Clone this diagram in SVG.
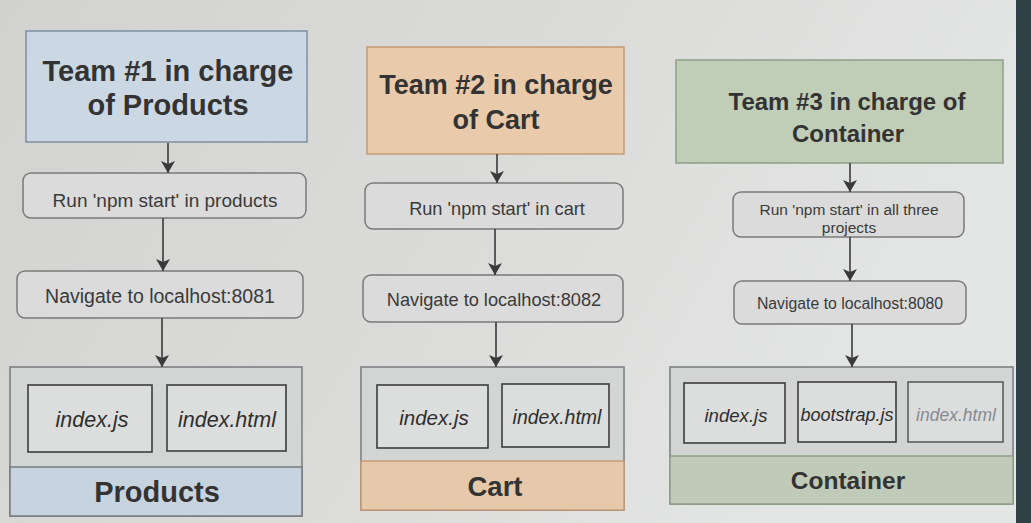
<svg xmlns="http://www.w3.org/2000/svg" width="1031" height="523" viewBox="0 0 1031 523">
<defs>
<linearGradient id="bg" x1="0" y1="0" x2="1" y2="0.3">
<stop offset="0" stop-color="#d2d2d0"/>
<stop offset="0.6" stop-color="#dcdddb"/>
<stop offset="1" stop-color="#e4e6e5"/>
</linearGradient>
<marker id="ah" viewBox="0 0 12 14" refX="12" refY="7" markerWidth="12" markerHeight="14" markerUnits="userSpaceOnUse" orient="auto">
<path d="M0,0 L12,7 L0,14 L3,7 Z" fill="#3a3a3a"/>
</marker>
</defs>
<style>
.team{stroke-width:1.5}
.t1{fill:#cbd8e4;stroke:#7f8fa0}
.t2{fill:#e9caab;stroke:#c49a74}
.t3{fill:#c0cdb7;stroke:#8e9e86}
.step{fill:#dadbda;stroke:#7a7a7a;stroke-width:1.5}
.cont{fill:#d3d5d5;stroke:#777b7d;stroke-width:1.5}
.file{fill:#dcdddd;stroke:#3c3c3c;stroke-width:1.6}
.title{font-family:"Liberation Sans",Arial,sans-serif;font-weight:bold;fill:#333;text-anchor:middle}
.lbl{font-family:"Liberation Sans",Arial,sans-serif;fill:#3a3a3a;text-anchor:middle}
.fn{font-family:"Liberation Sans",Arial,sans-serif;font-style:italic;fill:#2e2e2e;text-anchor:middle}
.conn{stroke:#3a3a3a;stroke-width:1.6;fill:none;marker-end:url(#ah)}
</style>
<rect x="0" y="0" width="1031" height="523" fill="url(#bg)"/>
<rect x="1016" y="0" width="15" height="523" fill="#2f4147"/>

<g id="team1">
<rect class="team t1" x="26" y="31" width="281" height="111"/>
<text class="title" x="168" y="81" font-size="29">Team #1 in charge</text>
<text class="title" x="168" y="115" font-size="29">of Products</text>
</g>
<g id="run1">
<rect class="step" x="23" y="173" width="283" height="45" rx="8"/>
<text class="lbl" x="165" y="207" font-size="19">Run 'npm start' in products</text>
</g>
<g id="nav1">
<rect class="step" x="17" y="271" width="286" height="47" rx="8"/>
<text class="lbl" x="160" y="303" font-size="19.5">Navigate to localhost:8081</text>
</g>
<g id="products">
<rect class="cont" x="10" y="367" width="292" height="149"/>
<rect x="10" y="467" width="292" height="49" fill="#c7d4df" stroke="#777b7d" stroke-width="1.5"/>
<rect class="file" x="28" y="385" width="124" height="67"/>
<text class="fn" x="92" y="427" font-size="21.5">index.js</text>
<rect class="file" x="167" y="385" width="119" height="66"/>
<text class="fn" x="227" y="427" font-size="21.5">index.html</text>
<text class="title" x="157" y="502" font-size="29">Products</text>
</g>

<g id="team2">
<rect class="team t2" x="367" y="47" width="257" height="107"/>
<text class="title" x="496" y="94" font-size="27">Team #2 in charge</text>
<text class="title" x="496" y="129" font-size="27">of Cart</text>
</g>
<g id="run2">
<rect class="step" x="365" y="183" width="258" height="46" rx="8"/>
<text class="lbl" x="497" y="215" font-size="18.2">Run 'npm start' in cart</text>
</g>
<g id="nav2">
<rect class="step" x="363" y="275" width="260" height="47" rx="8"/>
<text class="lbl" x="494" y="306" font-size="18.2">Navigate to localhost:8082</text>
</g>
<g id="cart">
<rect class="cont" x="361" y="367" width="263" height="143"/>
<rect x="361" y="461" width="263" height="49" fill="#e6c9ab" stroke="#c49a74" stroke-width="1.5"/>
<rect class="file" x="377" y="385" width="111" height="63"/>
<text class="fn" x="434" y="425" font-size="20.5">index.js</text>
<rect class="file" x="502" y="384" width="107" height="63"/>
<text class="fn" x="557" y="424" font-size="19.5">index.html</text>
<text class="title" x="495" y="496" font-size="27.5">Cart</text>
</g>

<g id="team3">
<rect class="team t3" x="676" y="60" width="327" height="103"/>
<text class="title" x="847" y="110" font-size="24">Team #3 in charge of</text>
<text class="title" x="848" y="142" font-size="24">Container</text>
</g>
<g id="run3">
<rect class="step" x="733" y="192" width="231" height="45" rx="8"/>
<text class="lbl" x="849" y="215" font-size="15.5">Run 'npm start' in all three</text>
<text class="lbl" x="849" y="233" font-size="15.5">projects</text>
</g>
<g id="nav3">
<rect class="step" x="734" y="281" width="232" height="43" rx="8"/>
<text class="lbl" x="850" y="309" font-size="15.8">Navigate to localhost:8080</text>
</g>
<g id="container">
<rect class="cont" x="670" y="367" width="343" height="137"/>
<rect x="670" y="456" width="343" height="48" fill="#bfcbb8" stroke="#8e9e86" stroke-width="1.5"/>
<rect class="file" x="684" y="383" width="101" height="60"/>
<text class="fn" x="736" y="422" font-size="18.6">index.js</text>
<rect class="file" x="798" y="382" width="98" height="60"/>
<text class="fn" x="847" y="421" font-size="18">bootstrap.js</text>
<rect class="file" x="908" y="382" width="95" height="60" style="stroke:#5a5e60"/>
<text class="fn" x="956" y="421" font-size="17.5" style="fill:#868b90">index.html</text>
<text class="title" x="848" y="489" font-size="24.5">Container</text>
</g>

<g id="connectors">
<line class="conn" x1="168" y1="143" x2="168" y2="173"/>
<line class="conn" x1="163" y1="218" x2="163" y2="271"/>
<line class="conn" x1="162" y1="318" x2="162" y2="367"/>
<line class="conn" x1="497" y1="154" x2="497" y2="183"/>
<line class="conn" x1="495" y1="229" x2="495" y2="275"/>
<line class="conn" x1="496" y1="322" x2="496" y2="367"/>
<line class="conn" x1="850" y1="163" x2="850" y2="192"/>
<line class="conn" x1="850" y1="237" x2="850" y2="281"/>
<line class="conn" x1="852" y1="324" x2="852" y2="367"/>
</g>
</svg>
